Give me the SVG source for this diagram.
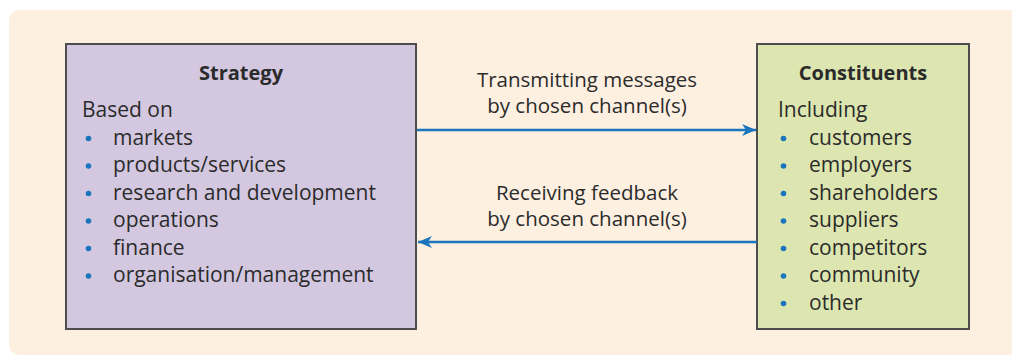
<svg xmlns="http://www.w3.org/2000/svg" width="1012" height="358" viewBox="0 0 1012 358">
<style>
text{font-family:"Open Sans","Noto Sans","Liberation Sans",sans-serif;font-size:21px;fill:#2b2b2b}
.t{font-weight:bold;text-anchor:middle;font-size:20px}
.c{text-anchor:middle;font-size:20.5px}
.b{fill:#1a75bc}
.box{stroke:#4d4d4d;stroke-width:2}
.arr{stroke:#1a75bc;stroke-width:2.5;fill:none}
</style>
<defs>
<marker id="ah" viewBox="0 0 14 12" refX="14" refY="6" markerWidth="14" markerHeight="12" markerUnits="userSpaceOnUse" orient="auto">
<path d="M0,0 L14,6 L0,12 L4,6 Z" fill="#1a75bc"/>
</marker>
</defs>
<rect x="0" y="0" width="1012" height="358" fill="#ffffff"/>
<rect x="9" y="10" width="1020" height="345" rx="10" fill="#fdf0e1"/>
<g id="strategy">
<rect class="box" x="66" y="44" width="350" height="285" fill="#d3c8e0"/>
<text class="t" x="241" y="80">Strategy</text>
<text x="82" y="117">Based on</text>
<g class="b"><circle cx="88.5" cy="138.5" r="2.8"/><circle cx="88.5" cy="166" r="2.8"/><circle cx="88.5" cy="193.5" r="2.8"/><circle cx="88.5" cy="221" r="2.8"/><circle cx="88.5" cy="248.5" r="2.8"/><circle cx="88.5" cy="276" r="2.8"/></g>
<text x="113" y="144.5">markets</text>
<text x="113" y="172">products/services</text>
<text x="113" y="199.5">research and development</text>
<text x="113" y="227">operations</text>
<text x="113" y="254.5">finance</text>
<text x="113" y="282">organisation/management</text>
</g>
<g id="constituents">
<rect class="box" x="757" y="44" width="212" height="285" fill="#dde6b0"/>
<text class="t" x="863" y="80">Constituents</text>
<text x="778" y="117">Including</text>
<g class="b"><circle cx="783.5" cy="138.5" r="2.8"/><circle cx="783.5" cy="166" r="2.8"/><circle cx="783.5" cy="193.5" r="2.8"/><circle cx="783.5" cy="221" r="2.8"/><circle cx="783.5" cy="248.5" r="2.8"/><circle cx="783.5" cy="276" r="2.8"/><circle cx="783.5" cy="303.5" r="2.8"/></g>
<text x="809" y="144.5">customers</text>
<text x="809" y="172">employers</text>
<text x="809" y="199.5">shareholders</text>
<text x="809" y="227">suppliers</text>
<text x="809" y="254.5">competitors</text>
<text x="809" y="282">community</text>
<text x="809" y="309.5">other</text>
</g>
<g id="connectors">
<line class="arr" x1="417" y1="130" x2="756" y2="130" marker-end="url(#ah)"/>
<line class="arr" x1="757" y1="242" x2="418" y2="242" marker-end="url(#ah)"/>
<text class="c" x="587" y="87">Transmitting messages</text>
<text class="c" x="587" y="113">by chosen channel(s)</text>
<text class="c" x="587" y="200">Receiving feedback</text>
<text class="c" x="587" y="226">by chosen channel(s)</text>
</g>
</svg>
